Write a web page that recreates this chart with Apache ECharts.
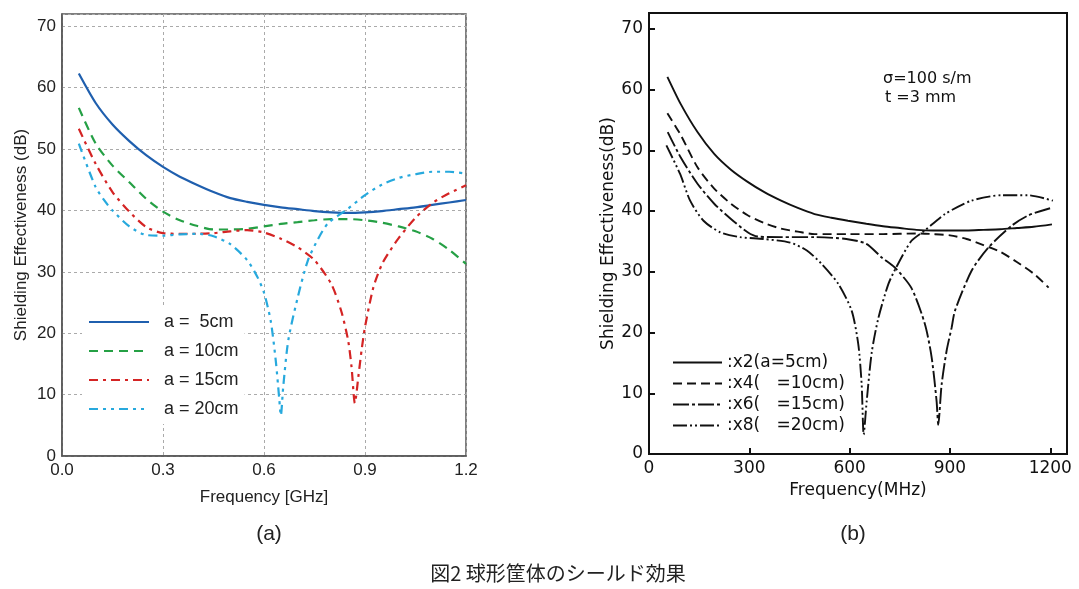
<!DOCTYPE html>
<html>
<head>
<meta charset="utf-8">
<script src="https://cdn.jsdelivr.net/npm/echarts@6/dist/echarts.min.js"></script>
<style>
  html, body { margin: 0; background: #fff; }
  #main { width: 1079px; height: 589px; }
</style>
</head>
<body>
<div id="main"></div>
<script>
// (a) 計算結果  周波数 [GHz] / SE [dB]
const a5Freq = [0.05, 0.1, 0.15, 0.2, 0.25, 0.3, 0.35, 0.4, 0.45, 0.5, 0.55, 0.6, 0.65, 0.7, 0.75, 0.8, 0.85, 0.9, 0.95, 1.0, 1.05, 1.1, 1.15, 1.2]
const a5SE = [62.3, 57.5, 54.0, 51.3, 49.0, 47.1, 45.5, 44.2, 43.0, 42.0, 41.4, 40.9, 40.5, 40.2, 39.9, 39.7, 39.6, 39.7, 39.9, 40.2, 40.5, 40.9, 41.3, 41.7]
const a10Freq = [0.05, 0.1, 0.15, 0.2, 0.25, 0.3, 0.35, 0.4, 0.45, 0.5, 0.55, 0.6, 0.65, 0.7, 0.75, 0.8, 0.85, 0.9, 0.95, 1.0, 1.05, 1.1, 1.15, 1.2]
const a10SE = [56.7, 50.9, 47.3, 44.6, 41.9, 39.8, 38.4, 37.5, 36.9, 36.9, 37.0, 37.4, 37.8, 38.1, 38.4, 38.6, 38.6, 38.4, 38.0, 37.4, 36.6, 35.4, 33.6, 31.3]
const a15Freq = [0.05, 0.1, 0.15, 0.2, 0.25, 0.3, 0.35, 0.4, 0.45, 0.5, 0.55, 0.6, 0.65, 0.7, 0.75, 0.8, 0.83, 0.85, 0.86, 0.87, 0.88, 0.89, 0.9, 0.925, 0.95, 0.975, 1.0, 1.05, 1.1, 1.15, 1.2]
const a15SE = [53.3, 47.6, 43.0, 39.8, 37.3, 36.3, 36.2, 36.2, 36.3, 36.6, 36.8, 36.4, 35.4, 34.0, 31.9, 28.0, 23.5, 18.8, 14.5, 8.6, 12.8, 17.3, 21.0, 27.5, 31.2, 33.5, 35.5, 38.8, 41.2, 42.8, 44.1]
const a20Freq = [0.05, 0.1, 0.133, 0.15, 0.2, 0.25, 0.3, 0.35, 0.4, 0.45, 0.5, 0.55, 0.58, 0.6, 0.62, 0.635, 0.645, 0.65, 0.657, 0.672, 0.7, 0.73, 0.76, 0.79, 0.85, 0.9, 0.95, 1.0, 1.05, 1.1, 1.15, 1.2]
const a20SE = [50.9, 43.8, 41.1, 40.0, 37.4, 36.0, 35.9, 36.1, 36.2, 35.8, 34.5, 31.9, 29.2, 26.6, 22.0, 15.5, 9.5, 6.6, 11.2, 18.8, 25.8, 31.8, 35.3, 37.9, 40.3, 42.5, 44.2, 45.3, 45.9, 46.3, 46.3, 46.0]

// (b) 文献の測定図  周波数 [MHz] / SE [dB]
const x2Freq = [55, 95, 145, 195, 245, 295, 345, 395, 445, 495, 545, 595, 650, 700, 750, 800, 850, 900, 950, 1000, 1050, 1100, 1150, 1205]
const x2SE = [62.1, 57.6, 53.0, 49.4, 46.8, 44.8, 43.1, 41.7, 40.5, 39.5, 38.9, 38.4, 37.9, 37.5, 37.2, 36.9, 36.8, 36.8, 36.8, 36.9, 37.0, 37.2, 37.4, 37.8]
const x4Freq = [55, 95, 145, 195, 245, 295, 345, 395, 445, 495, 600, 700, 800, 850, 900, 950, 1000, 1050, 1100, 1150, 1195]
const x4SE = [56.1, 52.5, 47.2, 43.7, 41.2, 39.3, 38.0, 37.1, 36.6, 36.2, 36.2, 36.2, 36.3, 36.2, 36.0, 35.4, 34.4, 33.3, 31.6, 29.7, 27.4]
const x6Freq = [56, 95, 145, 195, 245, 295, 325, 395, 495, 590, 650, 695, 735, 785, 825, 845, 860, 865, 875, 890, 905, 915, 965, 1015, 1085, 1135, 1208]
const x6SE = [53.0, 48.8, 44.5, 41.2, 38.7, 36.5, 35.8, 35.7, 35.7, 35.4, 34.6, 32.4, 30.7, 27.3, 21.4, 16.0, 8.7, 4.8, 11.4, 17.0, 20.8, 23.6, 30.2, 34.0, 37.6, 39.3, 40.6]
const x8Freq = [52, 93, 123, 163, 213, 272, 342, 422, 472, 516, 566, 606, 626, 636, 642, 651, 666, 686, 716, 740, 785, 825, 885, 964, 1054, 1133, 1208]
const x8SE = [50.8, 46.1, 41.7, 38.4, 36.5, 35.7, 35.4, 34.8, 33.5, 31.3, 28.0, 23.6, 18.0, 11.4, 3.2, 8.7, 16.7, 22.4, 28.0, 30.8, 35.1, 36.8, 39.5, 41.7, 42.6, 42.6, 41.7]

const namesA = ['a =  5cm', 'a = 10cm', 'a = 15cm', 'a = 20cm']
const namesB = [':x2(a=5cm)', ':x4(   =10cm)', ':x6(   =15cm)', ':x8(   =20cm)']

function zip(xs, ys) {
  return xs.map((x, i) => [x, ys[i]])
}

var chart = echarts.init(document.getElementById('main'))

var fontA = '"Liberation Sans", Arial, sans-serif'
var fontB = '"DejaVu Sans", sans-serif'

// 左図の線
var styleA = [
  { color: '#1f5fae', type: 'solid' },
  { color: '#25a045', type: [9, 6] },
  { color: '#d42424', type: [9, 5, 3, 5] },
  { color: '#27a9dd', type: [9, 5, 3, 5, 3, 5] },
]
var dataA = [zip(a5Freq, a5SE), zip(a10Freq, a10SE), zip(a15Freq, a15SE), zip(a20Freq, a20SE)]
// 右図の線
var dashB = ['solid', [9, 5], [16, 3, 3, 3], [14, 3, 2, 3, 2, 3]]
var dataB = [zip(x2Freq, x2SE), zip(x4Freq, x4SE), zip(x6Freq, x6SE), zip(x8Freq, x8SE)]

var series = []
dataA.forEach((d, i) => {
  series.push({
    name: namesA[i],
    type: 'line',
    xAxisIndex: 0,
    yAxisIndex: 0,
    data: d,
    symbol: 'none',
    smooth: 0.25,
    color: styleA[i].color,
    lineStyle: { width: 2.2, type: styleA[i].type, color: styleA[i].color },
  })
})
dataB.forEach((d, i) => {
  series.push({
    name: namesB[i],
    type: 'line',
    xAxisIndex: 1,
    yAxisIndex: 1,
    data: d,
    symbol: 'none',
    smooth: 0.25,
    color: '#111',
    lineStyle: { width: 1.9, type: dashB[i], color: '#111' },
  })
})

let option = {
  animation: false,
  backgroundColor: '#fff',
  grid: [
    { left: 62, top: 14, width: 404, height: 442, show: true, borderColor: '#555', borderWidth: 1.5, backgroundColor: 'transparent' },
    { left: 649, top: 13, width: 418, height: 441, show: true, borderColor: '#111', borderWidth: 2, backgroundColor: 'transparent' },
  ],
  xAxis: [
    {
      gridIndex: 0, type: 'value', min: 0, max: 1.2, interval: 0.3,
      name: 'Frequency [GHz]', nameLocation: 'middle', nameGap: 33,
      nameTextStyle: { fontFamily: fontA, fontSize: 17, color: '#222' },
      axisLine: { lineStyle: { color: '#555', width: 1.5 } },
      axisTick: { show: false },
      axisLabel: { fontFamily: fontA, fontSize: 17, color: '#222', margin: 6, formatter: (v) => v.toFixed(1) },
      splitLine: { lineStyle: { color: '#aaa', type: [3, 3], width: 1 } },
    },
    {
      gridIndex: 1, type: 'value', min: 0, max: 1250, interval: 300,
      name: 'Frequency(MHz)', nameLocation: 'middle', nameGap: 28,
      nameTextStyle: { fontFamily: fontB, fontSize: 17, color: '#111' },
      axisLine: { lineStyle: { color: '#111', width: 2 } },
      axisTick: { inside: true, length: 6, lineStyle: { color: '#111', width: 2 } },
      axisLabel: { fontFamily: fontB, fontSize: 17, color: '#111', margin: 6, showMaxLabel: false, formatter: (v) => String(v) },
      splitLine: { show: false },
    },
  ],
  yAxis: [
    {
      gridIndex: 0, type: 'value', min: 0, max: 72, interval: 10,
      name: 'Shielding Effectiveness (dB)', nameLocation: 'middle', nameGap: 32,
      nameTextStyle: { fontFamily: fontA, fontSize: 17, color: '#222' },
      axisLine: { show: true, lineStyle: { color: '#555', width: 1.5 } },
      axisTick: { show: false },
      axisLabel: { fontFamily: fontA, fontSize: 17, color: '#222', margin: 6, showMaxLabel: false },
      splitLine: { lineStyle: { color: '#aaa', type: [3, 3], width: 1 } },
    },
    {
      gridIndex: 1, type: 'value', min: 0, max: 72.6, interval: 10,
      name: 'Shielding Effectiveness(dB)', nameLocation: 'middle', nameGap: 30,
      nameTextStyle: { fontFamily: fontB, fontSize: 17, color: '#111' },
      axisLine: { show: true, lineStyle: { color: '#111', width: 2 } },
      axisTick: { inside: true, length: 6, lineStyle: { color: '#111', width: 2 } },
      axisLabel: { fontFamily: fontB, fontSize: 17, color: '#111', margin: 6, showMaxLabel: false },
      splitLine: { show: false },
    },
  ],
  legend: [
    {
      data: namesA, orient: 'vertical', left: 82, top: 307,
      itemWidth: 60, itemHeight: 14, itemGap: 11,
      backgroundColor: '#fff', padding: [6, 6, 6, 6],
      itemStyle: { opacity: 0 },
      textStyle: { fontFamily: fontA, fontSize: 18, color: '#222', padding: [0, 0, 0, 10] },
      selectedMode: false,
    },
    {
      data: namesB, orient: 'vertical', left: 667, top: 349,
      itemWidth: 49, itemHeight: 14, itemGap: 4,
      itemStyle: { opacity: 0 },
      textStyle: { fontFamily: fontB, fontSize: 17, color: '#111' },
      selectedMode: false,
    },
  ],
  title: [
    { text: '(a)', left: 264, top: 519, textAlign: 'center', textStyle: { fontFamily: fontA, fontSize: 21, fontWeight: 'normal', color: '#222' } },
    { text: '(b)', left: 848, top: 519, textAlign: 'center', textStyle: { fontFamily: fontA, fontSize: 21, fontWeight: 'normal', color: '#222' } },
    { text: '図2 球形筐体のシールド効果', left: 553, top: 558, textAlign: 'center', textStyle: { fontFamily: '"Noto Sans CJK JP", sans-serif', fontSize: 20, fontWeight: 'normal', color: '#222' } },
  ],
  graphic: [
    { type: 'text', left: 883, top: 71, style: { text: 'σ=100 s/m', font: '16px "DejaVu Sans", sans-serif', fill: '#111' } },
    { type: 'text', left: 885, top: 90, style: { text: 't =3 mm', font: '16px "DejaVu Sans", sans-serif', fill: '#111' } },
  ],
  series: series,
}
chart.setOption(option)
</script>
</body>
</html>
